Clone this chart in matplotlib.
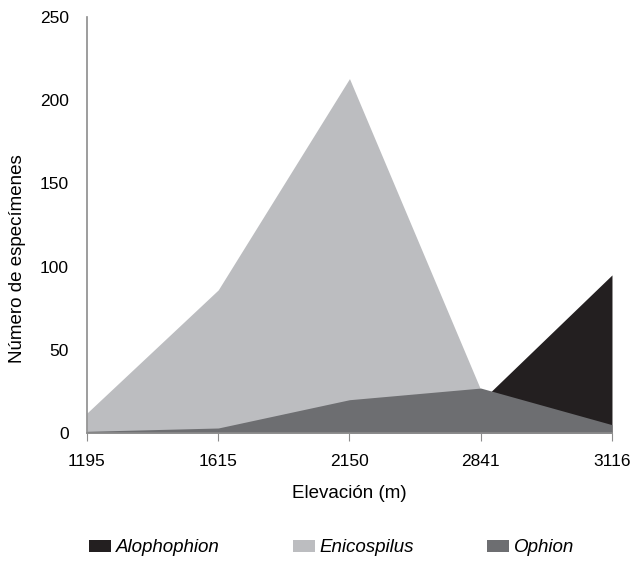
import matplotlib.pyplot as plt

plt.rcParams['font.family'] = ['Liberation Sans', 'DejaVu Sans']

elevations = ["1195", "1615", "2150", "2841", "3116"]
alophophion = [0, 0, 0, 19, 95]
enicospilus = [12, 86, 213, 26, 0]
ophion = [1, 3, 20, 27, 5]

x = range(len(elevations))
fs = 12.5
lfs = 13.5

fig = plt.figure(figsize=(6.33, 5.68), dpi=100)
ax = fig.add_axes([0.1374, 0.2377, 0.8294, 0.7323])

ax.fill_between(x, alophophion, color="#231f20", lw=0, label="Alophophion")
ax.fill_between(x, enicospilus, color="#bcbdc0", lw=0, label="Enicospilus")
ax.fill_between(x, ophion, color="#6d6e71", lw=0, label="Ophion")

ax.set_xlim(0, len(elevations) - 1)
ax.set_ylim(0, 250)
ax.set_xticks(list(x))
ax.set_xticklabels(elevations)
ax.set_yticks([0, 50, 100, 150, 200, 250])

for s in ["top", "right"]:
    ax.spines[s].set_visible(False)
for s in ["left", "bottom"]:
    ax.spines[s].set_color("#8c8c8c")
    ax.spines[s].set_linewidth(1.2)
ax.tick_params(axis="y", length=0, pad=13, labelsize=fs)
ax.tick_params(axis="x", length=6, color="#8c8c8c", pad=9, labelsize=fs)

ax.set_xlabel("Elevación (m)", fontsize=lfs, labelpad=12)
ax.set_ylabel("Número de especímenes", fontsize=lfs)
ax.yaxis.set_label_coords(-0.117, 0.418)

leg = fig.legend(loc="center", bbox_to_anchor=(0.524, 20 / 568), ncol=3,
                 frameon=False, fontsize=lfs, columnspacing=3.9,
                 handlelength=1.17, handleheight=0.64, handletextpad=0.27,
                 borderpad=0)
for t in leg.get_texts():
    t.set_fontstyle("italic")

fig.savefig("out.png", dpi=100)
